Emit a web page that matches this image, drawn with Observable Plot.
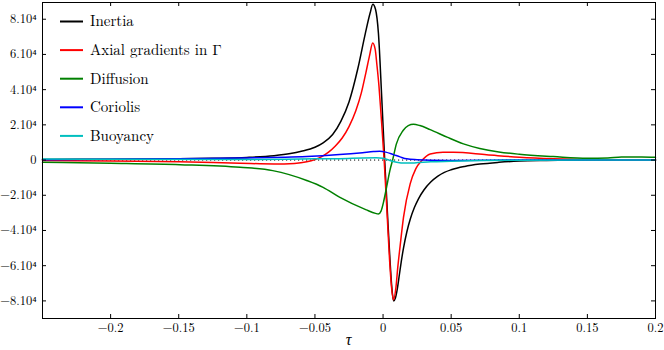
<!DOCTYPE html>
<html><head><meta charset="utf-8">
<script src="https://cdn.jsdelivr.net/npm/d3@7"></script>
<script src="https://cdn.jsdelivr.net/npm/@observablehq/plot@0.6"></script>
<style>body{margin:0;background:#fff}</style>
</head><body><div id="chart"></div>
<script>
// ---- data ----
const inertiaTau = [-0.25,-0.2,-0.15,-0.125,-0.1,-0.08,-0.068,-0.06,-0.05,-0.044,-0.037,-0.031,-0.025,-0.0185,-0.013,-0.0095,-0.0075,-0.0055,-0.0034,-0.001,0.0012,0.0032,0.0051,0.0065,0.0078,0.009,0.0105,0.012,0.0135,0.015,0.0174,0.02,0.023,0.026,0.03,0.035,0.04,0.045,0.05,0.06,0.071,0.085,0.1,0.12,0.15,0.2];
const inertiaVal = [300,500,700,1000,1500,2500,3700,5000,7300,9800,14500,22000,33000,52000,72000,83500,88500,85500,72000,36000,0,-30000,-57000,-73000,-80000,-78500,-73000,-65000,-57000,-50000,-41000,-33500,-27000,-22000,-17000,-12500,-9300,-7000,-5500,-3600,-2300,-1300,-600,-250,0,0];

const axialTau = [-0.25,-0.2,-0.15,-0.105,-0.08,-0.065,-0.056,-0.05,-0.045,-0.04,-0.035,-0.03,-0.025,-0.02,-0.016,-0.0125,-0.01,-0.0076,-0.0058,-0.0045,-0.003,-0.0015,0.0008,0.003,0.0048,0.0062,0.0076,0.0095,0.0108,0.0125,0.015,0.0199,0.024,0.0284,0.0346,0.044,0.0517,0.076,0.1,0.125,0.15,0.2];
const axialVal = [-300,-600,-1000,-1800,-2200,-1900,-1000,300,2000,4500,8000,12500,19000,28000,38000,50000,59000,66500,63000,54000,42000,26000,0,-31000,-57000,-72000,-79300,-72000,-61000,-49000,-32500,-13500,-5000,-300,3500,4400,4400,3000,1600,700,200,0];

const diffusionTau = [-0.25,-0.2,-0.149,-0.105,-0.081,-0.056,-0.044,-0.032,-0.0123,-0.0055,-0.0035,-0.0015,0.0003,0.0027,0.005,0.007,0.0098,0.0147,0.0185,0.0223,0.027,0.0346,0.047,0.059,0.071,0.085,0.1,0.125,0.15,0.165,0.175,0.19,0.2];
const diffusionVal = [-1250,-1800,-2600,-4100,-6000,-11600,-15500,-21100,-28300,-30300,-30700,-29000,-24000,-15000,-6000,0,9200,16800,19600,20300,19600,17300,13000,9200,6600,4600,3300,2000,1000,1200,1800,1800,1600];

const coriolisTau = [-0.25,-0.2,-0.15,-0.105,-0.056,-0.032,-0.015,-0.007,-0.0025,0.002,0.0076,0.0125,0.0174,0.025,0.035,0.05,0.1,0.2];
const coriolisVal = [200,500,800,1200,2000,3100,4200,4800,5000,4500,3100,1800,700,200,-100,-200,0,0];

const buoyancyTau = [-0.25,-0.2,-0.105,-0.05,-0.032,-0.015,-0.005,0,0.005,0.01,0.016,0.023,0.035,0.05,0.071,0.1,0.2];
const buoyancyVal = [600,400,300,700,800,1200,1300,1000,-200,-1200,-1700,-1600,-1000,-700,-300,-100,0];

const seriesNames = ["Inertia","Axial gradients in Γ","Diffusion","Coriolis","Buoyancy"];
const seriesColors = ["#000000","#ff0000","#008000","#0000ff","#00bfbf"];
const seriesTau = [inertiaTau, axialTau, diffusionTau, coriolisTau, buoyancyTau];
const seriesVal = [inertiaVal, axialVal, diffusionVal, coriolisVal, buoyancyVal];

const xTicks = [-0.2,-0.15,-0.1,-0.05,0,0.05,0.1,0.15,0.2];
const yTicks = [-8e4,-6e4,-4e4,-2e4,0,2e4,4e4,6e4,8e4];
const xDomain = [-0.25, 0.2];
const yDomain = [-9e4, 8.95e4];

// ---- layout ----
const W = 664, H = 350, mL = 42, mR = 9, mT = 2, mB = 32;
const frameW = W - mL - mR, frameH = H - mT - mB;
const FONT = "'Latin Modern Roman', 'Liberation Serif', serif";

const fmtX = v => v === 0 ? "0" : (v < 0 ? "\u2212" : "") + String(Math.abs(v));
const fmtY = v => v === 0 ? "0" : (v < 0 ? "\u2212" : "") + String(Math.abs(v) / 1e4) + ".10\u2074";

const lineMarks = seriesNames.map((name, i) => {
  const rows = seriesTau[i].map((t, j) => ({tau: t, value: seriesVal[i][j]}));
  return Plot.line(rows, {x: "tau", y: "value", stroke: seriesColors[i], strokeWidth: 1.5, curve: "monotone-x"});
});

const plot = Plot.plot({
  width: W, height: H,
  marginLeft: mL, marginRight: mR, marginTop: mT, marginBottom: mB,
  style: {fontFamily: FONT, fontSize: "12.5px", background: "white", color: "black"},
  x: {domain: xDomain, ticks: xTicks, tickFormat: fmtX, tickSize: 0, tickPadding: 5, label: null},
  y: {domain: yDomain, ticks: yTicks, tickFormat: fmtY, tickSize: 0, tickPadding: 6, label: null},
  marks: [
    Plot.ruleY([0], {stroke: "black", strokeWidth: 1, strokeDasharray: "1.2,2.8"}),
    ...lineMarks,
    Plot.tickX(xTicks, {x: d => d, insetTop: frameH - 4, stroke: "black"}),
    Plot.tickX(xTicks, {x: d => d, insetBottom: frameH - 4, stroke: "black"}),
    Plot.tickY(yTicks, {y: d => d, insetRight: frameW - 4, stroke: "black"}),
    Plot.tickY(yTicks, {y: d => d, insetLeft: frameW - 4, stroke: "black"}),
    Plot.frame({stroke: "black", strokeWidth: 1})
  ]
});

const svg = d3.select(plot);
svg.selectAll("text").style("font-family", FONT).style("font-size", "12.5px");
const lg = svg.append("g").attr("text-anchor", "start");
seriesNames.forEach((n, i) => {
  const y = 21.5 + i * 28.6;
  lg.append("line").attr("x1", 60).attr("x2", 83).attr("y1", y).attr("y2", y)
    .attr("stroke", seriesColors[i]).attr("stroke-width", 2);
  lg.append("text").attr("x", 90).attr("y", y).attr("dy", "0.33em").attr("text-anchor", "start")
    .style("font-family", FONT).style("font-size", "15px").attr("fill", "black").text(n);
});
svg.append("text").attr("x", mL + frameW / 2).attr("y", H - 5)
  .attr("text-anchor", "middle").style("font-family", FONT).style("font-style", "italic")
  .style("font-size", "16px").attr("fill", "black").text("τ");

document.getElementById("chart").appendChild(plot);
</script>
</body></html>
